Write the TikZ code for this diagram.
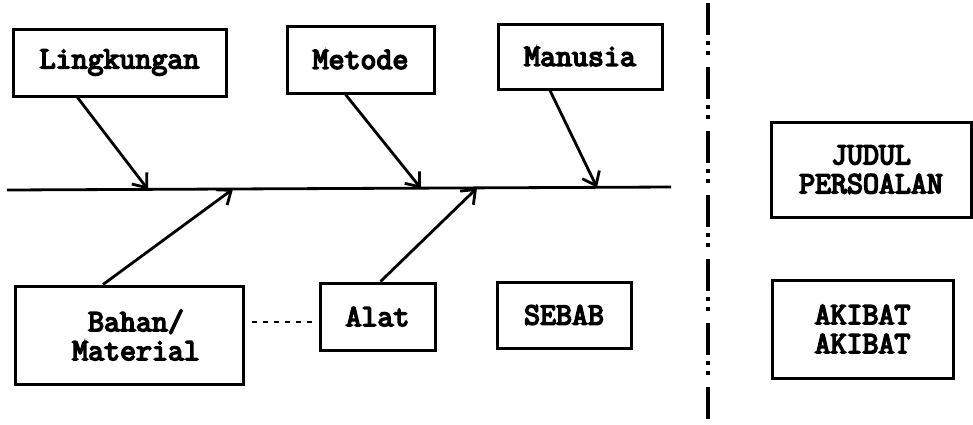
\documentclass[tikz,border=0pt]{standalone}
\usepackage{fontspec}
\newfontfamily\boxfont{Latin Modern Mono}[FakeBold=5]
\usetikzlibrary{arrows.meta,calc}
\begin{document}
\begin{tikzpicture}[x=1pt,y=-1pt,
  box/.style={draw,line width=3pt,inner sep=0pt,font=\boxfont\fontsize{31}{29}\selectfont,align=center},
  bone/.style={line width=2.8pt,-{Straight Barb[length=12pt,width=19pt,line width=2.8pt]}},
  spineline/.style={line width=2.8pt},
  divider/.style={line width=3.2pt,dash pattern=on 32pt off 6pt on 4pt off 6pt on 4pt off 12pt},
  link/.style={line width=2.6pt,dash pattern=on 5pt off 6pt}]
\useasboundingbox (0,0) rectangle (973,424);
\node[box,minimum width=213pt,minimum height=67pt] (lingk) at (119.5,62.5) {Lingkungan};
\node[box,minimum width=147pt,minimum height=67pt] (metode) at (360.5,59.5) {Metode};
\node[box,minimum width=164pt,minimum height=65pt] (manusia) at (580,56.5) {Manusia};
\node[box,minimum width=228pt,minimum height=98pt] (bahan) at (129,335) {\hspace*{14pt}Bahan/\\\hspace*{14pt}Material};
\node[box,minimum width=115pt,minimum height=67pt] (alat) at (377.5,316.5) {Alat};
\node[box,minimum width=134pt,minimum height=66pt] (sebab) at (564,315) {SEBAB};
\node[box,minimum width=200pt,minimum height=95pt] (judul) at (871,169.5) {JUDUL\\PERSOALAN};
\node[box,minimum width=181pt,minimum height=98pt] (akibat) at (862.5,329) {AKIBAT\\AKIBAT};
\coordinate (sp0) at (7,190);
\coordinate (sp1) at (671,187);
\coordinate (e1) at (148,189.5);
\coordinate (e2) at (421,188.5);
\coordinate (e3) at (597,187.5);
\coordinate (e4) at (233,189);
\coordinate (e5) at (477,188);
\coordinate (d0) at (708,3);
\coordinate (d1) at (708,424);
\draw[spineline] (sp0) -- (sp1);
\draw[bone] ([xshift=-42pt]lingk.south) -- (e1);
\draw[bone] ([xshift=-15pt]metode.south) -- (e2);
\draw[bone] ([xshift=-30pt]manusia.south) -- (e3);
\draw[bone] ([xshift=-26pt]bahan.north) -- (e4);
\draw[bone] ([xshift=3pt]alat.north) -- (e5);
\draw[link] ([xshift=7pt,yshift=13pt]bahan.east) -- ([xshift=-7pt,yshift=-5.5pt]alat.west);
\draw[divider] (d0) -- (d1);
\end{tikzpicture}
\end{document}
